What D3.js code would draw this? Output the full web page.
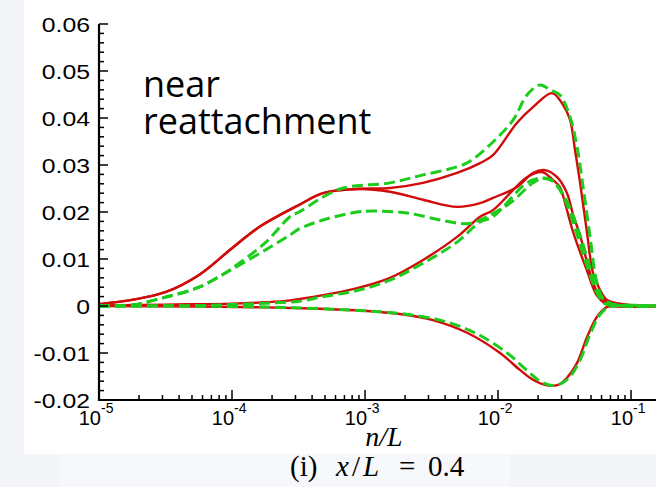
<!DOCTYPE html>
<html>
<head>
<meta charset="utf-8">
<script src="https://cdn.jsdelivr.net/npm/d3@7"></script>
<style>
  html, body { margin: 0; padding: 0; background: #f3f5f9; }
  svg { display: block; }
</style>
</head>
<body>
<svg width="656" height="487"></svg>
<script>
// profiles: n/L and value
var redA_x = [1e-5, 1.77e-5, 3.19e-5, 5.65e-5, 1e-4, 1.6e-4, 3.19e-4, 4.83e-4, 8.71e-4, 1.54e-3, 2.73e-3, 4.92e-3, 7.33e-3, 9.16e-3, 1.39e-2, 1.83e-2, 2.55e-2, 3.08e-2, 3.48e-2, 3.79e-2, 4.14e-2, 4.67e-2, 5.18e-2, 5.85e-2, 6.61e-2, 9.33e-2, 0.154];
var redA_y = [0.0004, 0.0013, 0.003, 0.0066, 0.0123, 0.0168, 0.0215, 0.024, 0.0249, 0.0251, 0.0262, 0.0283, 0.0304, 0.0321, 0.039, 0.0423, 0.0453, 0.0428, 0.0396, 0.0332, 0.0262, 0.0155, 0.007, 0.0034, 0.0013, 0.0003, 0];

var redB_x = [1e-5, 1.77e-5, 3.19e-5, 5.65e-5, 1e-4, 1.6e-4, 3.19e-4, 4.83e-4, 8.71e-4, 1.54e-3, 2.73e-3, 4.92e-3, 7.33e-3, 9.16e-3, 1.39e-2, 1.83e-2, 2.25e-2, 2.78e-2, 3.30e-2, 3.66e-2, 4.14e-2, 4.67e-2, 5.18e-2, 5.85e-2, 7.2e-2, 0.154];
var redB_y = [0.0004, 0.0013, 0.003, 0.0066, 0.0123, 0.0168, 0.0215, 0.024, 0.0249, 0.0243, 0.0226, 0.0211, 0.0219, 0.023, 0.0253, 0.0283, 0.0289, 0.0274, 0.024, 0.0195, 0.015, 0.0093, 0.005, 0.002, 0.0003, 0];

var redC_x = [1e-5, 3.19e-5, 1e-4, 1.8e-4, 2.73e-4, 4.83e-4, 8.71e-4, 1.54e-3, 2.73e-3, 4.92e-3, 7.33e-3, 9.16e-3, 1.65e-2, 2.14e-2, 2.59e-2, 2.92e-2, 3.08e-2, 3.66e-2, 4.67e-2, 5.55e-2, 6.61e-2, 0.154];
var redC_y = [0.0001, 0.0003, 0.0005, 0.0008, 0.0012, 0.0023, 0.0038, 0.006, 0.0098, 0.0147, 0.019, 0.0204, 0.0274, 0.0285, 0.0268, 0.0253, 0.0235, 0.0158, 0.0075, 0.0022, 0.0003, 0];

var redD_x = [1e-5, 5.75e-5, 1.8e-4, 4.59e-4, 9.66e-4, 1.83e-3, 3.24e-3, 5.85e-3, 1.035e-2, 1.46e-2, 1.83e-2, 2.25e-2, 2.55e-2, 2.92e-2, 3.30e-2, 3.93e-2, 4.67e-2, 5.55e-2, 6.61e-2, 8.26e-2, 0.154];
var redD_y = [0, -0.0001, -0.0003, -0.0006, -0.001, -0.0017, -0.003, -0.0057, -0.01, -0.0136, -0.0157, -0.0168, -0.017, -0.0166, -0.0153, -0.0121, -0.0066, -0.0023, -0.0002, 0, 0];

var greenA_x = [1e-5, 1.77e-5, 3.19e-5, 5.65e-5, 8.41e-5, 1e-4, 1.8e-4, 2.73e-4, 3.19e-4, 6.49e-4, 1.54e-3, 2.73e-3, 4.92e-3, 6.15e-3, 9.16e-3, 1.30e-2, 1.65e-2, 2.07e-2, 2.46e-2, 2.92e-2, 3.48e-2, 3.93e-2, 4.36e-2, 4.92e-2, 5.55e-2, 6.37e-2, 8.26e-2, 0.154];
var greenA_y = [0, 0.0002, 0.0019, 0.004, 0.0066, 0.008, 0.0136, 0.019, 0.020, 0.0249, 0.0262, 0.0279, 0.0296, 0.0308, 0.0349, 0.0396, 0.0449, 0.047, 0.046, 0.0449, 0.0402, 0.0338, 0.0253, 0.0147, 0.0049, 0.001, 0.0002, 0];

var greenB_x = [1e-5, 1.77e-5, 3.19e-5, 5.65e-5, 8.41e-5, 1e-4, 1.8e-4, 2.73e-4, 3.19e-4, 4.83e-4, 8.71e-4, 1.15e-3, 2.07e-3, 3.66e-3, 5.85e-3, 7.33e-3, 1.23e-2, 1.83e-2, 2.18e-2, 2.59e-2, 3.30e-2, 4.14e-2, 4.92e-2, 5.85e-2, 7.2e-2, 0.154];
var greenB_y = [0, 0.0002, 0.0019, 0.004, 0.0066, 0.0078, 0.012, 0.0151, 0.0164, 0.0183, 0.020, 0.0202, 0.0198, 0.0183, 0.0175, 0.0183, 0.0219, 0.0262, 0.0272, 0.0266, 0.0222, 0.015, 0.0082, 0.0025, 0.0004, 0];

var greenC_x = [1e-5, 5.65e-5, 1e-4, 1.8e-4, 3.19e-4, 4.83e-4, 8.71e-4, 1.54e-3, 2.73e-3, 4.92e-3, 7.33e-3, 9.16e-3, 1.65e-2, 2.14e-2, 2.59e-2, 3.08e-2, 3.79e-2, 4.67e-2, 5.55e-2, 6.37e-2, 8.26e-2, 0.154];
var greenC_y = [0, 0.0001, 0.0003, 0.0006, 0.001, 0.002, 0.0033, 0.0055, 0.0091, 0.0136, 0.0179, 0.019, 0.0262, 0.0272, 0.0265, 0.0235, 0.0165, 0.0085, 0.0028, 0.0005, 0.0001, 0];

var greenD_x = [1e-5, 1.8e-4, 9.66e-4, 1.83e-3, 3.66e-3, 6.71e-3, 1.17e-2, 1.65e-2, 2.07e-2, 2.55e-2, 3.03e-2, 3.48e-2, 4.14e-2, 4.92e-2, 5.85e-2, 6.95e-2, 0.154];
var greenD_y = [0, -0.0002, -0.001, -0.0016, -0.003, -0.0057, -0.01, -0.0137, -0.016, -0.0169, -0.0164, -0.015, -0.0115, -0.006, -0.0018, -0.0002, 0];

var yTicks = [-0.02, -0.01, 0, 0.01, 0.02, 0.03, 0.04, 0.05, 0.06];
var yTickLabels = ["-0.02", "-0.01", "0", "0.01", "0.02", "0.03", "0.04", "0.05", "0.06"];
var xDecades = [-5, -4, -3, -2, -1];

var svg = d3.select("svg");
var x = d3.scaleLog().domain([1e-5, 0.154]).range([99, 656]);
var y = d3.scaleLinear().domain([-0.02, 0.06]).range([400, 24]);

// white page panel and caption band
svg.append("rect").attr("x", 24).attr("y", 0).attr("width", 632).attr("height", 454).style("fill", "#fff");
svg.append("rect").attr("x", 60).attr("y", 454).attr("width", 450).attr("height", 33).style("fill", "#f7f8fb");

svg.append("clipPath").attr("id", "plot")
    .append("rect").attr("x", 99).attr("y", 0).attr("width", 557).attr("height", 400);

var line = d3.line()
    .x(function (d) { return x(d[0]); })
    .y(function (d) { return y(d[1]); })
    .curve(d3.curveCatmullRom.alpha(0.5));

function zipped(xs, ys) {
    return xs.map(function (v, i) { return [v, ys[i]]; });
}

var reds = [zipped(redA_x, redA_y), zipped(redB_x, redB_y), zipped(redC_x, redC_y), zipped(redD_x, redD_y)];
var greens = [zipped(greenA_x, greenA_y), zipped(greenB_x, greenB_y), zipped(greenC_x, greenC_y), zipped(greenD_x, greenD_y)];

var curves = svg.append("g").attr("clip-path", "url(#plot)");
curves.selectAll("path.red").data(reds).enter().append("path")
    .attr("class", "red")
    .attr("d", line)
    .style("fill", "none")
    .style("stroke", "#d10a0a")
    .style("stroke-width", 2.4);
curves.selectAll("path.green").data(greens).enter().append("path")
    .attr("class", "green")
    .attr("d", line)
    .style("fill", "none")
    .style("stroke", "#1ccc1c")
    .style("stroke-width", 3)
    .style("stroke-dasharray", "11,5");

// axes
var ax = svg.append("g").style("stroke", "#000");
ax.append("line").attr("x1", 99).attr("x2", 99).attr("y1", y(0.06)).attr("y2", 401).style("stroke-width", 2.2);
ax.append("line").attr("x1", 98).attr("x2", 656).attr("y1", 400).attr("y2", 400).style("stroke-width", 2.2);

// y ticks, every 0.002, major every 0.01
var yMinor = d3.range(0, 41).map(function (i) { return -0.02 + i * 0.002; });
ax.selectAll("line.yt").data(yMinor).enter().append("line")
    .attr("x1", 99)
    .attr("x2", function (d, i) { return i % 5 === 0 ? 108 : 104; })
    .attr("y1", function (d) { return y(d); })
    .attr("y2", function (d) { return y(d); })
    .style("stroke-width", 1.5);

// x ticks, decades and 2..9
var xMinor = [];
xDecades.forEach(function (e) {
    for (var k = 1; k <= 9; k++) {
        var v = k * Math.pow(10, e);
        if (v <= 0.154) xMinor.push({ v: v, major: k === 1 });
    }
});
ax.selectAll("line.xt").data(xMinor).enter().append("line")
    .attr("x1", function (d) { return x(d.v); })
    .attr("x2", function (d) { return x(d.v); })
    .attr("y1", 400)
    .attr("y2", function (d) { return d.major ? 390 : 395; })
    .style("stroke-width", 1.5);

// tick labels
svg.selectAll("text.yl").data(yTicks).enter().append("text")
    .attr("transform", function (d) { return "translate(90," + (y(d) + 8) + ") scale(1.18,1)"; })
    .attr("text-anchor", "end")
    .style("font-family", "'Liberation Sans', Arial, sans-serif")
    .style("font-size", "21px")
    .style("fill", "#000")
    .text(function (d, i) { return yTickLabels[i]; });

var xl = svg.selectAll("g.xl").data(xDecades).enter().append("g")
    .attr("transform", function (d) { return "translate(" + (x(Math.pow(10, d)) + 2) + ",0)"; });
xl.append("text")
    .attr("x", 0).attr("y", 425)
    .attr("text-anchor", "end")
    .style("font-family", "'Liberation Sans', Arial, sans-serif")
    .style("font-size", "20px")
    .text("10");
xl.append("text")
    .attr("x", 0).attr("y", 413)
    .style("font-family", "'Liberation Sans', Arial, sans-serif")
    .style("font-size", "14px")
    .text(function (d) { return String(d); });

// axis title
svg.append("text")
    .attr("x", 384).attr("y", 446)
    .attr("text-anchor", "middle")
    .style("font-family", "'Liberation Serif', 'Times New Roman', serif")
    .style("font-style", "italic")
    .style("font-size", "28px")
    .text("n/L");

// annotation
var note = svg.append("text")
    .style("font-family", "'Open Sans', sans-serif")
    .style("font-size", "36px")
    .style("fill", "#000");
note.append("tspan").attr("x", 143).attr("y", 97).text("near");
note.append("tspan").attr("x", 143).attr("y", 134).text("reattachment");

// caption
var cap = svg.append("text")
    .attr("y", 476)
    .style("font-family", "'Liberation Serif', 'Times New Roman', serif")
    .style("font-size", "29px")
    .style("fill", "#000");
cap.append("tspan").attr("x", 290).text("(i)");
cap.append("tspan").attr("x", 336).style("font-style", "italic").text("x");
cap.append("tspan").attr("x", 352).text("/");
cap.append("tspan").attr("x", 363).style("font-style", "italic").text("L");
cap.append("tspan").attr("x", 399).text("=");
cap.append("tspan").attr("x", 428).text("0.4");
</script>
</body>
</html>
